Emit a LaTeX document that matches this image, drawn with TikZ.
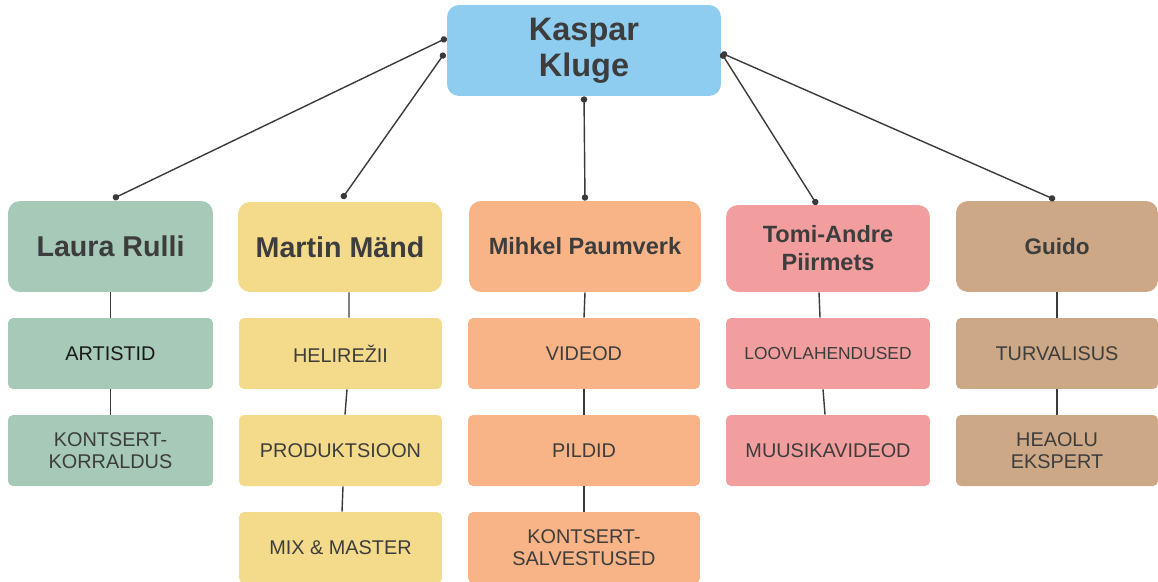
\documentclass[tikz,border=0pt]{standalone}
\usepackage{fontspec}
\setmainfont{Liberation Sans}
\usepackage{xcolor}
\usetikzlibrary{positioning,arrows.meta}

\definecolor{bossblue}{HTML}{8FCDF0}
\definecolor{sage}{HTML}{A6C9B8}
\definecolor{sand}{HTML}{F4DB8B}
\definecolor{peach}{HTML}{F8B487}
\definecolor{rose}{HTML}{F29D9E}
\definecolor{tan}{HTML}{CCA886}
\definecolor{inkgrey}{HTML}{3D3D3D}
\definecolor{linegrey}{HTML}{3A3A3A}

\begin{document}
\begin{tikzpicture}[x=0.02cm,y=-0.02cm,
    head/.style={fill=#1, rounded corners=0.24cm, inner sep=0pt, minimum height=1.82cm, text=inkgrey, align=center},
    item/.style={fill=#1, rounded corners=0.1cm, inner sep=0pt, minimum height=1.42cm, text=inkgrey, align=center, font=\fontsize{11.3}{12.5}\selectfont},
    link/.style={draw=linegrey, line width=0.8pt, {Circle[length=3.6pt]}-{Circle[length=3.6pt]}},
    stem/.style={draw=linegrey, line width=0.8pt}]
    \useasboundingbox (0,0) rectangle (1158,581);

    % top
    \node[head=bossblue, minimum width=5.48cm, font=\bfseries\fontsize{18.5}{20.5}\selectfont] (kaspar) at (584,50.5) {Kaspar\\Kluge};

    % team leads
    \node[head=sage, minimum width=4.1cm, font=\bfseries\fontsize{16.3}{18}\selectfont] (laura) at (110.5,246.5) {Laura Rulli};
    \node[head=sand, minimum width=4.08cm, minimum height=1.8cm, font=\bfseries\fontsize{16.3}{18}\selectfont] (martin) at (340,247) {Martin Mänd};
    \node[head=peach, minimum width=4.64cm, font=\bfseries\fontsize{13.4}{16}\selectfont] (mihkel) at (585,246.5) {Mihkel Paumverk};
    \node[head=rose, minimum width=4.08cm, minimum height=1.74cm, font=\bfseries\fontsize{13.4}{16}\selectfont] (tomi) at (828,248.5) {Tomi-Andre\\Piirmets};
    \node[head=tan, minimum width=4.04cm, font=\bfseries\fontsize{12.8}{15}\selectfont] (guido) at (1057,246.5) {Guido};

    % tasks
    \node[item=sage, minimum width=4.1cm, text=black!90] (artistid) at (110.5,353.5) {ARTISTID};
    \node[item=sage, minimum width=4.1cm] (korraldus) at (110.5,450.5) {KONTSERT-\\KORRALDUS};

    \node[item=sand, minimum width=4.06cm] (helirezii) at (340.5,353.5) {HELIREŽII};
    \node[item=sand, minimum width=4.06cm] (produktsioon) at (340.5,450.5) {PRODUKTSIOON};
    \node[item=sand, minimum width=4.06cm] (mix) at (340.5,547.5) {MIX \& MASTER};

    \node[item=peach, minimum width=4.64cm] (videod) at (584,353.5) {VIDEOD};
    \node[item=peach, minimum width=4.64cm] (pildid) at (584,450.5) {PILDID};
    \node[item=peach, minimum width=4.64cm] (salvestused) at (584,547.5) {KONTSERT-\\SALVESTUSED};

    \node[item=rose, minimum width=4.08cm, font=\fontsize{9.9}{12}\selectfont] (loov) at (828,353.5) {LOOVLAHENDUSED};
    \node[item=rose, minimum width=4.08cm] (muusika) at (828,450.5) {MUUSIKAVIDEOD};

    \node[item=tan, minimum width=4.04cm] (turvalisus) at (1057,353.5) {TURVALISUS};
    \node[item=tan, minimum width=4.04cm] (heaolu) at (1057,450.5) {HEAOLU\\EKSPERT};

    % links from the top
    \draw[link] ([yshift=0.25cm]kaspar.west) -- ([xshift=0.05cm,yshift=0.04cm]laura.north);
    \draw[link] ([xshift=-0.04cm,yshift=-0.05cm]kaspar.west) -- ([xshift=0.04cm,yshift=0.06cm]martin.north);
    \draw[link] (kaspar.south) -- (mihkel.north);
    \draw[link] ([yshift=-0.05cm]kaspar.east) -- ([xshift=-0.22cm]tomi.north);
    \draw[link] ([yshift=-0.05cm]kaspar.east) -- ([xshift=-0.04cm,yshift=0.02cm]guido.north);

    % stems
    \draw[stem] (laura.south) -- (artistid.north);
    \draw[stem] (artistid.south) -- (korraldus.north);
    \draw[stem] ([xshift=0.18cm]martin.south) -- ([xshift=0.17cm]helirezii.north);
    \draw[stem] ([xshift=0.13cm]helirezii.south) -- ([xshift=0.09cm]produktsioon.north);
    \draw[stem] ([xshift=0.05cm]produktsioon.south) -- ([xshift=0.03cm]mix.north);
    \draw[stem] (mihkel.south) -- (videod.north);
    \draw[stem] (videod.south) -- (pildid.north);
    \draw[stem] (pildid.south) -- (salvestused.north);
    \draw[stem] ([xshift=-0.18cm]tomi.south) -- ([xshift=-0.16cm]loov.north);
    \draw[stem] ([xshift=-0.1cm]loov.south) -- ([xshift=-0.06cm]muusika.north);
    \draw[stem] (guido.south) -- (turvalisus.north);
    \draw[stem] (turvalisus.south) -- (heaolu.north);
\end{tikzpicture}
\end{document}
